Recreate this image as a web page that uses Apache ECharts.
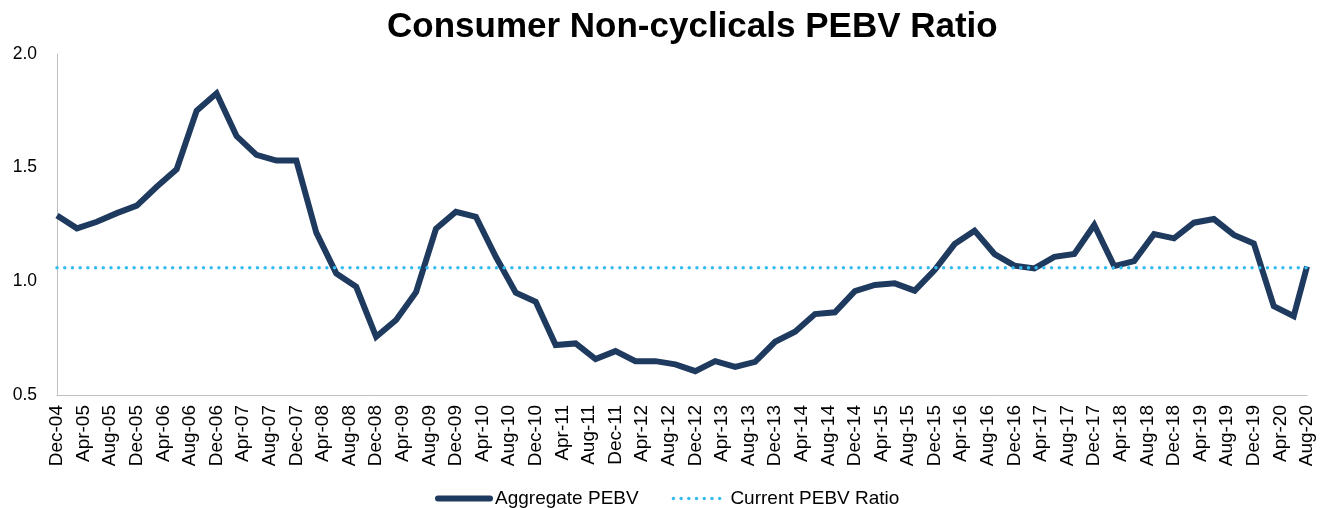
<!DOCTYPE html>
<html lang="en">

<head>
    <meta charset="UTF-8">
    <title>Consumer Non-cyclicals PEBV Ratio</title>
    <script src="https://cdn.jsdelivr.net/npm/echarts@6/dist/echarts.min.js"></script>
    <style>
        * {
            margin: 0;
            padding: 0;
        }

        #main {
            width: 1323px;
            height: 508px;
        }
    </style>
</head>

<body>
    <div id="main"></div>
    <script>
        const monthNames = ['Jan', 'Feb', 'Mar', 'Apr', 'May', 'Jun', 'Jul', 'Aug', 'Sep', 'Oct', 'Nov', 'Dec'];
        // axis runs monthly from Dec-04 to Aug-20
        const startYear = 2004, startMonth = 11, monthCount = 189;

        // quarterly readings Dec-04 .. Jun-20, then Aug-20
        const aggregatePEBV = [
            1.29, 1.233, 1.262, 1.30, 1.333, 1.416, 1.493, 1.75, 1.827, 1.639,
            1.556, 1.531, 1.531, 1.214, 1.035, 0.976, 0.756, 0.83, 0.952, 1.231,
            1.306, 1.284, 1.108, 0.95, 0.91, 0.72, 0.727, 0.658, 0.693, 0.649,
            0.649, 0.635, 0.605, 0.649, 0.624, 0.646, 0.734, 0.778, 0.856, 0.864,
            0.957, 0.984, 0.991, 0.959, 1.05, 1.164, 1.223, 1.12, 1.069, 1.057,
            1.108, 1.12, 1.248, 1.067, 1.089, 1.208, 1.189, 1.258, 1.274, 1.204,
            1.167, 0.891, 0.847, 1.065
        ];
        const currentPEBV = 1.06;

        function monthLabel(offset) {
            const m = startMonth + offset;
            const y = startYear + Math.floor(m / 12);
            return monthNames[m % 12] + '-' + String(y % 100).padStart(2, '0');
        }

        const months = [];
        for (let i = 0; i < monthCount; i++) months.push(monthLabel(i));

        // month offsets of the points: every 3 months, last one is Aug-20
        const pointOffsets = [];
        for (let i = 0; i < aggregatePEBV.length - 1; i++) pointOffsets.push(i * 3);
        pointOffsets.push(monthCount - 1);

        const font = 'Liberation Sans, Arial, sans-serif';
        const navy = '#1f3a5f';
        const sky = '#33bdf2';
        var myChart = echarts.init(document.getElementById('main'));

        option = {
            backgroundColor: '#ffffff',
            animation: false,
            title: {
                text: 'Consumer Non-cyclicals PEBV Ratio',
                left: 382,
                top: 5,
                textStyle: {
                    fontFamily: font,
                    fontWeight: 'bold',
                    fontSize: 35,
                    color: '#000'
                }
            },
            legend: {
                left: 430,
                top: 484,
                itemWidth: 52,
                itemHeight: 14,
                itemGap: 33,
                itemStyle: { opacity: 0 },
                textStyle: {
                    fontFamily: font,
                    fontSize: 19,
                    color: '#000'
                },
                data: [{
                    name: 'Aggregate PEBV',
                    lineStyle: { color: navy, width: 6, cap: 'round' }
                }, {
                    name: 'Current PEBV Ratio',
                    lineStyle: { color: sky, width: 3.5, type: [0.01, 7.7], cap: 'round' }
                }]
            },
            grid: {
                left: 57,
                right: 16,
                top: 54,
                bottom: 113,
                containLabel: false
            },
            xAxis: {
                type: 'category',
                data: months,
                boundaryGap: false,
                axisTick: { show: false },
                axisLine: {
                    lineStyle: { color: '#bfbfbf', width: 1 }
                },
                axisLabel: {
                    interval: 3,
                    rotate: 90,
                    margin: 10,
                    fontFamily: font,
                    fontSize: 19,
                    color: '#000'
                }
            },
            yAxis: {
                type: 'value',
                min: 0.5,
                max: 2.0,
                interval: 0.5,
                splitLine: { show: false },
                axisTick: { show: false },
                axisLine: {
                    show: true,
                    lineStyle: { color: '#bfbfbf', width: 1 }
                },
                axisLabel: {
                    margin: 20,
                    fontFamily: font,
                    fontSize: 17.5,
                    color: '#000',
                    formatter: function (v) { return v.toFixed(1); }
                }
            },
            series: [{
                name: 'Aggregate PEBV',
                type: 'line',
                symbol: 'none',
                lineStyle: {
                    color: navy,
                    width: 6,
                    join: 'miter'
                },
                itemStyle: { color: navy, opacity: 0 },
                data: pointOffsets.map((o, i) => [months[o], aggregatePEBV[i]])
            }, {
                name: 'Current PEBV Ratio',
                type: 'line',
                symbol: 'none',
                lineStyle: {
                    color: sky,
                    width: 3.5,
                    type: [0.01, 7.7],
                    cap: 'round'
                },
                itemStyle: { color: sky, opacity: 0 },
                data: [[months[0], currentPEBV], [months[monthCount - 1], currentPEBV]]
            }]
        };
        myChart.setOption(option);
    </script>
</body>

</html>
